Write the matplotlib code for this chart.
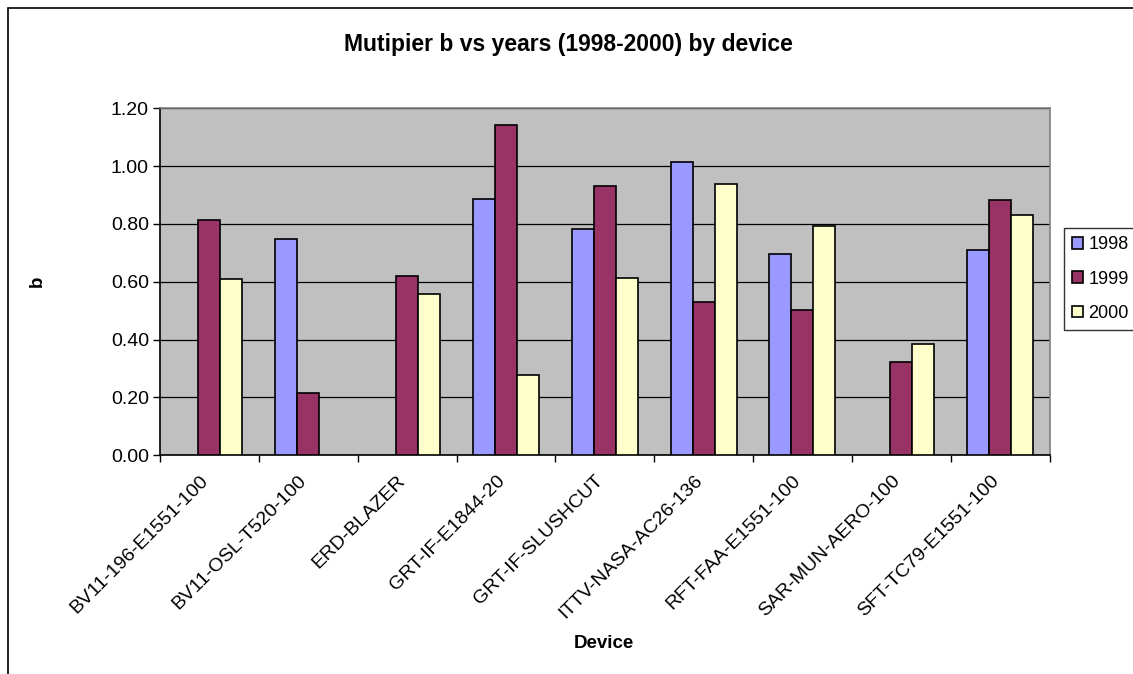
import numpy as np
import matplotlib
matplotlib.use("Agg")
import matplotlib.pyplot as plt
from matplotlib.patches import Rectangle
from matplotlib.transforms import ScaledTranslation

plt.rcParams['font.family'] = ['Liberation Sans', 'DejaVu Sans']

# multiplier b per device, one list per year (nan = no data that year)
devices = ["BV11-196-E1551-100", "BV11-OSL-T520-100", "ERD-BLAZER", "GRT-IF-E1844-20",
           "GRT-IF-SLUSHCUT", "ITTV-NASA-AC26-136", "RFT-FAA-E1551-100",
           "SAR-MUN-AERO-100", "SFT-TC79-E1551-100"]
b_1998 = [np.nan, 0.749, np.nan, 0.886, 0.784, 1.015, 0.696, np.nan, 0.711]
b_1999 = [0.815, 0.214, 0.620, 1.142, 0.931, 0.529, 0.501, 0.322, 0.882]
b_2000 = [0.610, np.nan, 0.559, 0.277, 0.614, 0.937, 0.794, 0.384, 0.830]
years = ["1998", "1999", "2000"]
colors = ["#9999FF", "#993366", "#FFFFCC"]

fig = plt.figure(figsize=(11.33, 6.74), dpi=100)
fig.patch.set_facecolor("white")

# outer chart border
fig.add_artist(Rectangle((8 / 1133, -0.1), 1.2, 1 - 8 / 674 + 0.1, transform=fig.transFigure,
                         fill=False, edgecolor="black", linewidth=1.2))

ax = fig.add_axes([160 / 1133, 1 - 455.3 / 674, (1049.5 - 160) / 1133, (455.3 - 108.3) / 674])
ax.set_facecolor("#C0C0C0")

x = np.arange(len(devices))
w = 1 / 4.5
for i, (vals, c, yr) in enumerate(zip([b_1998, b_1999, b_2000], colors, years)):
    ax.bar(x + (i - 1) * w, vals, width=w, color=c, edgecolor="black", linewidth=1.2,
           label=yr, zorder=3)

ax.set_xlim(-0.5, len(devices) - 0.5)
ax.set_ylim(0, 1.2)
ax.set_yticks(np.arange(0, 1.21, 0.2))
ax.set_yticklabels([f"{v:.2f}" for v in np.arange(0, 1.21, 0.2)], fontsize=14)
ax.yaxis.grid(True, color="black", linewidth=0.9, zorder=1)
ax.set_axisbelow(True)

ax.set_xticks(np.arange(-0.5, len(devices), 1.0))
ax.set_xticklabels([])
ax.set_xticks(x, minor=True)
ax.set_xticklabels(devices, minor=True, rotation=45, ha="right", va="top",
                   rotation_mode="anchor", fontsize=14)
ax.tick_params(axis="x", which="minor", length=0, pad=12)
ax.tick_params(axis="x", which="major", length=5, direction="out", width=1)
ax.tick_params(axis="y", length=5, direction="out", width=1, pad=3)
# nudge the slanted device names a little to the left
shift = ScaledTranslation(-10 / 100, 0, fig.dpi_scale_trans)
for lbl in ax.get_xticklabels(minor=True):
    lbl.set_transform(lbl.get_transform() + shift)

for s in ["top", "right"]:
    ax.spines[s].set_color("#808080")
    ax.spines[s].set_linewidth(1.2)
for s in ["left", "bottom"]:
    ax.spines[s].set_color("black")
    ax.spines[s].set_linewidth(1.2)

fig.text(568 / 1133, 1 - 45 / 674, "Mutipier b vs years (1998-2000) by device",
         ha="center", va="center", fontsize=16.5, fontweight="bold")
fig.text(37 / 1133, 1 - 281 / 674, "b", ha="center", va="center", rotation=90,
         fontsize=13.5, fontweight="bold")
fig.text(604 / 1133, 1 - 644 / 674, "Device", ha="center", va="center",
         fontsize=13.5, fontweight="bold")

leg = fig.legend(loc="center left", bbox_to_anchor=(1064 / 1133, 1 - 279 / 674),
                 fontsize=13, frameon=True, fancybox=False, edgecolor="black",
                 handlelength=0.6, handleheight=0.6, handletextpad=0.3,
                 labelspacing=0.95, borderpad=0.45, borderaxespad=0)
leg.get_frame().set_linewidth(1.0)

fig.savefig("out.png", dpi=100)
